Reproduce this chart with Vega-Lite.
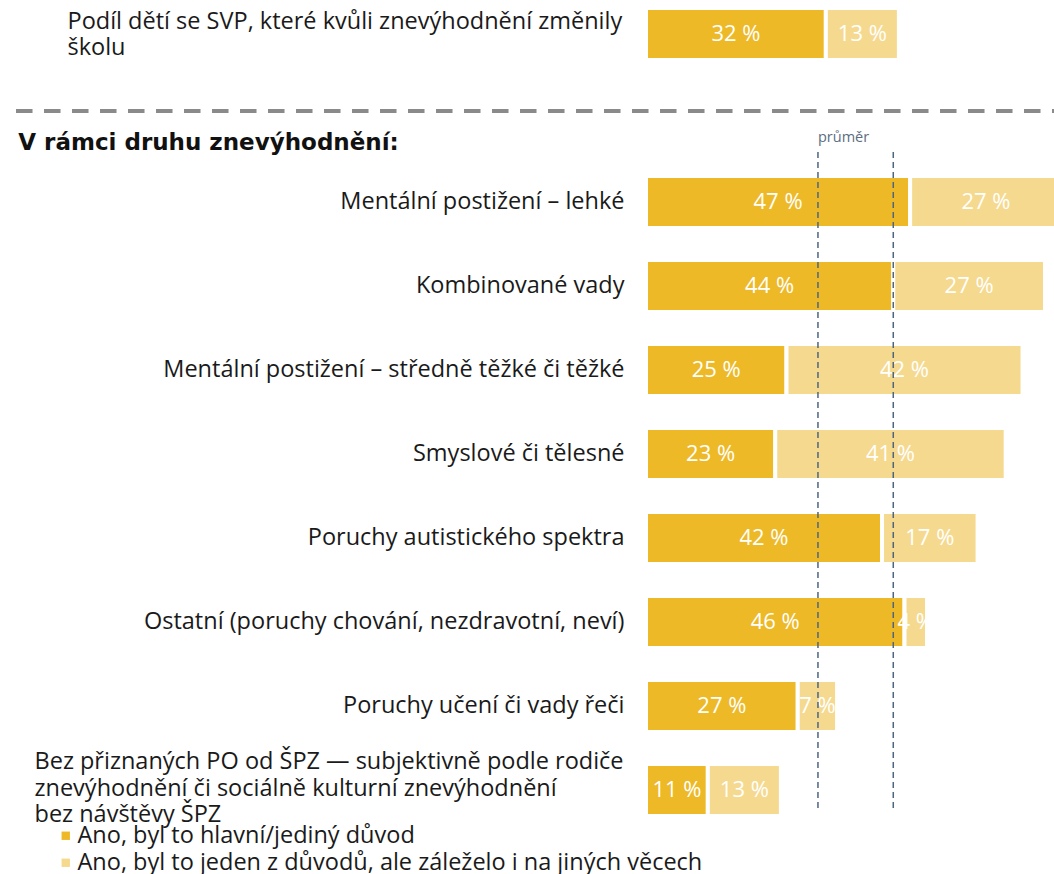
{
  "$schema": "https://vega.github.io/schema/vega-lite/v6.json",
  "autosize": {"type": "none"},
  "padding": {"left": 646, "top": 0, "right": 0, "bottom": 50},
  "width": 408,
  "height": 824,
  "background": "white",
  "config": {"view": {"stroke": null}, "font": "Open Sans"},
  "datasets": {
    "bars": [
      {"cat": "Podíl dětí se SVP, které kvůli znevýhodnění změnily|školu", "type": "Ano, byl to hlavní/jediný důvod", "value": 32},
      {"cat": "Podíl dětí se SVP, které kvůli znevýhodnění změnily|školu", "type": "Ano, byl to jeden z důvodů, ale záleželo i na jiných věcech", "value": 13},
      {"cat": "Mentální postižení – lehké", "type": "Ano, byl to hlavní/jediný důvod", "value": 47},
      {"cat": "Mentální postižení – lehké", "type": "Ano, byl to jeden z důvodů, ale záleželo i na jiných věcech", "value": 27},
      {"cat": "Kombinované vady", "type": "Ano, byl to hlavní/jediný důvod", "value": 44},
      {"cat": "Kombinované vady", "type": "Ano, byl to jeden z důvodů, ale záleželo i na jiných věcech", "value": 27},
      {"cat": "Mentální postižení – středně těžké či těžké", "type": "Ano, byl to hlavní/jediný důvod", "value": 25},
      {"cat": "Mentální postižení – středně těžké či těžké", "type": "Ano, byl to jeden z důvodů, ale záleželo i na jiných věcech", "value": 42},
      {"cat": "Smyslové či tělesné", "type": "Ano, byl to hlavní/jediný důvod", "value": 23},
      {"cat": "Smyslové či tělesné", "type": "Ano, byl to jeden z důvodů, ale záleželo i na jiných věcech", "value": 41},
      {"cat": "Poruchy autistického spektra", "type": "Ano, byl to hlavní/jediný důvod", "value": 42},
      {"cat": "Poruchy autistického spektra", "type": "Ano, byl to jeden z důvodů, ale záleželo i na jiných věcech", "value": 17},
      {"cat": "Ostatní (poruchy chování, nezdravotní, neví)", "type": "Ano, byl to hlavní/jediný důvod", "value": 46},
      {"cat": "Ostatní (poruchy chování, nezdravotní, neví)", "type": "Ano, byl to jeden z důvodů, ale záleželo i na jiných věcech", "value": 4},
      {"cat": "Poruchy učení či vady řeči", "type": "Ano, byl to hlavní/jediný důvod", "value": 27},
      {"cat": "Poruchy učení či vady řeči", "type": "Ano, byl to jeden z důvodů, ale záleželo i na jiných věcech", "value": 7},
      {"cat": "Bez přiznaných PO od ŠPZ — subjektivně podle rodiče|znevýhodnění či sociálně kulturní znevýhodnění|bez návštěvy ŠPZ", "type": "Ano, byl to hlavní/jediný důvod", "value": 11},
      {"cat": "Bez přiznaných PO od ŠPZ — subjektivně podle rodiče|znevýhodnění či sociálně kulturní znevýhodnění|bez návštěvy ŠPZ", "type": "Ano, byl to jeden z důvodů, ale záleželo i na jiných věcech", "value": 13}
    ],
    "avg": [
      {"avg": 30.6, "from": "_sep", "to": "Bez přiznaných PO od ŠPZ — subjektivně podle rodiče|znevýhodnění či sociálně kulturní znevýhodnění|bez návštěvy ŠPZ"},
      {"avg": 44.0, "from": "_sep", "to": "Bez přiznaných PO od ŠPZ — subjektivně podle rodiče|znevýhodnění či sociálně kulturní znevýhodnění|bez návštěvy ŠPZ"}
    ],
    "avglabel": [{"avg": 30.6, "row": "_sep", "t": "průměr"}],
    "heading": [{"row": "_sep", "t": "V rámci druhu znevýhodnění:"}]
  },
  "layer": [
    {
      "data": {"name": "heading"},
      "mark": {"type": "rule", "color": "#8a8a8a", "strokeWidth": 4, "strokeDash": [16.5, 11.5]},
      "encoding": {
        "x": {"datum": -112.1, "type": "quantitative", "axis": null, "scale": {"domain": [0, 72.6], "nice": false, "zero": false}},
        "x2": {"datum": 72.6},
        "y": {"field": "row", "type": "nominal", "bandPosition": 0.365, "title": null}
      }
    },
    {
      "data": {"name": "heading"},
      "mark": {"type": "text", "align": "left", "baseline": "middle", "font": "DejaVu Sans", "fontWeight": "bold", "fontSize": 23, "color": "#111111"},
      "encoding": {
        "x": {"datum": -111.7, "type": "quantitative", "axis": null},
        "y": {"field": "row", "type": "nominal", "bandPosition": 0.98, "title": null},
        "text": {"field": "t"}
      }
    },
    {
      "data": {"name": "bars"},
      "mark": {"type": "bar", "stroke": "white", "strokeWidth": 4, "clip": true},
      "encoding": {
        "y": {
          "field": "cat", "type": "nominal", "title": null,
          "scale": {
            "domain": [
              "Podíl dětí se SVP, které kvůli znevýhodnění změnily|školu",
              "_sep",
              "Mentální postižení – lehké",
              "Kombinované vady",
              "Mentální postižení – středně těžké či těžké",
              "Smyslové či tělesné",
              "Poruchy autistického spektra",
              "Ostatní (poruchy chování, nezdravotní, neví)",
              "Poruchy učení či vady řeči",
              "Bez přiznaných PO od ŠPZ — subjektivně podle rodiče|znevýhodnění či sociálně kulturní znevýhodnění|bez návštěvy ŠPZ"
            ],
            "paddingInner": 0.381,
            "paddingOuter": 0.0952
          },
          "axis": {
            "title": null, "domain": false, "ticks": false, "tickSize": 0, "grid": false,
            "labelLimit": 900, "labelFont": "Open Sans", "labelFontSize": 23.5, "labelColor": "#1a1a1a",
            "labelLineHeight": 26.5, "labelBaseline": "middle",
            "labelExpr": "datum.value == '_sep' ? '' : split(datum.value, '|')",
            "labelAlign": {"condition": {"test": "indexof(datum.value, '|') >= 0", "value": "left"}, "value": "right"},
            "labelPadding": {"condition": [{"test": "indexof(datum.value, 'Podíl') == 0", "value": 579}, {"test": "indexof(datum.value, 'Bez ') == 0", "value": 612}], "value": 22},
            "labelOffset": {"condition": [{"test": "indexof(datum.value, 'Podíl') == 0", "value": -12}, {"test": "indexof(datum.value, 'Bez ') == 0", "value": -28}], "value": 0}
          }
        },
        "x": {"field": "value", "type": "quantitative", "stack": "zero", "axis": null},
        "order": {"field": "type", "sort": "ascending"},
        "color": {
          "field": "type", "type": "nominal",
          "scale": {"domain": ["Ano, byl to hlavní/jediný důvod", "Ano, byl to jeden z důvodů, ale záleželo i na jiných věcech"], "range": ["#edb927", "#f5d98e"]},
          "legend": {
            "title": null, "orient": "none", "legendX": -592, "legendY": 824, "padding": 0,
            "symbolType": "square", "symbolSize": 70, "symbolStrokeWidth": 0,
            "labelFont": "Open Sans", "labelFontSize": 23.5, "labelColor": "#1a1a1a", "labelLimit": 1000,
            "labelOffset": 0, "rowPadding": 2
          }
        }
      }
    },
    {
      "data": {"name": "bars"},
      "transform": [{"calculate": "datum.value + ' %'", "as": "lab"}],
      "mark": {"type": "text", "color": "white", "font": "Open Sans", "fontSize": 22, "align": "center", "baseline": "middle", "clip": true},
      "encoding": {
        "y": {"field": "cat", "type": "nominal", "title": null},
        "x": {"field": "value", "type": "quantitative", "stack": "zero", "bandPosition": 0.5, "axis": null},
        "detail": {"field": "type"},
        "order": {"field": "type", "sort": "ascending"},
        "text": {"field": "lab"}
      }
    },
    {
      "data": {"name": "avg"},
      "mark": {"type": "rule", "color": "#4d6680", "strokeWidth": 1.5, "strokeDash": [6, 4]},
      "encoding": {
        "x": {"field": "avg", "type": "quantitative", "axis": null},
        "y": {"field": "from", "type": "nominal", "bandPosition": 1.154, "title": null},
        "y2": {"field": "to", "bandPosition": 0.846}
      }
    },
    {
      "data": {"name": "avglabel"},
      "mark": {"type": "text", "align": "left", "baseline": "middle", "font": "Open Sans", "fontSize": 14.5, "color": "#5b6d80"},
      "encoding": {
        "x": {"field": "avg", "type": "quantitative", "axis": null},
        "y": {"field": "row", "type": "nominal", "bandPosition": 0.885, "title": null},
        "text": {"field": "t"}
      }
    }
  ]
}
